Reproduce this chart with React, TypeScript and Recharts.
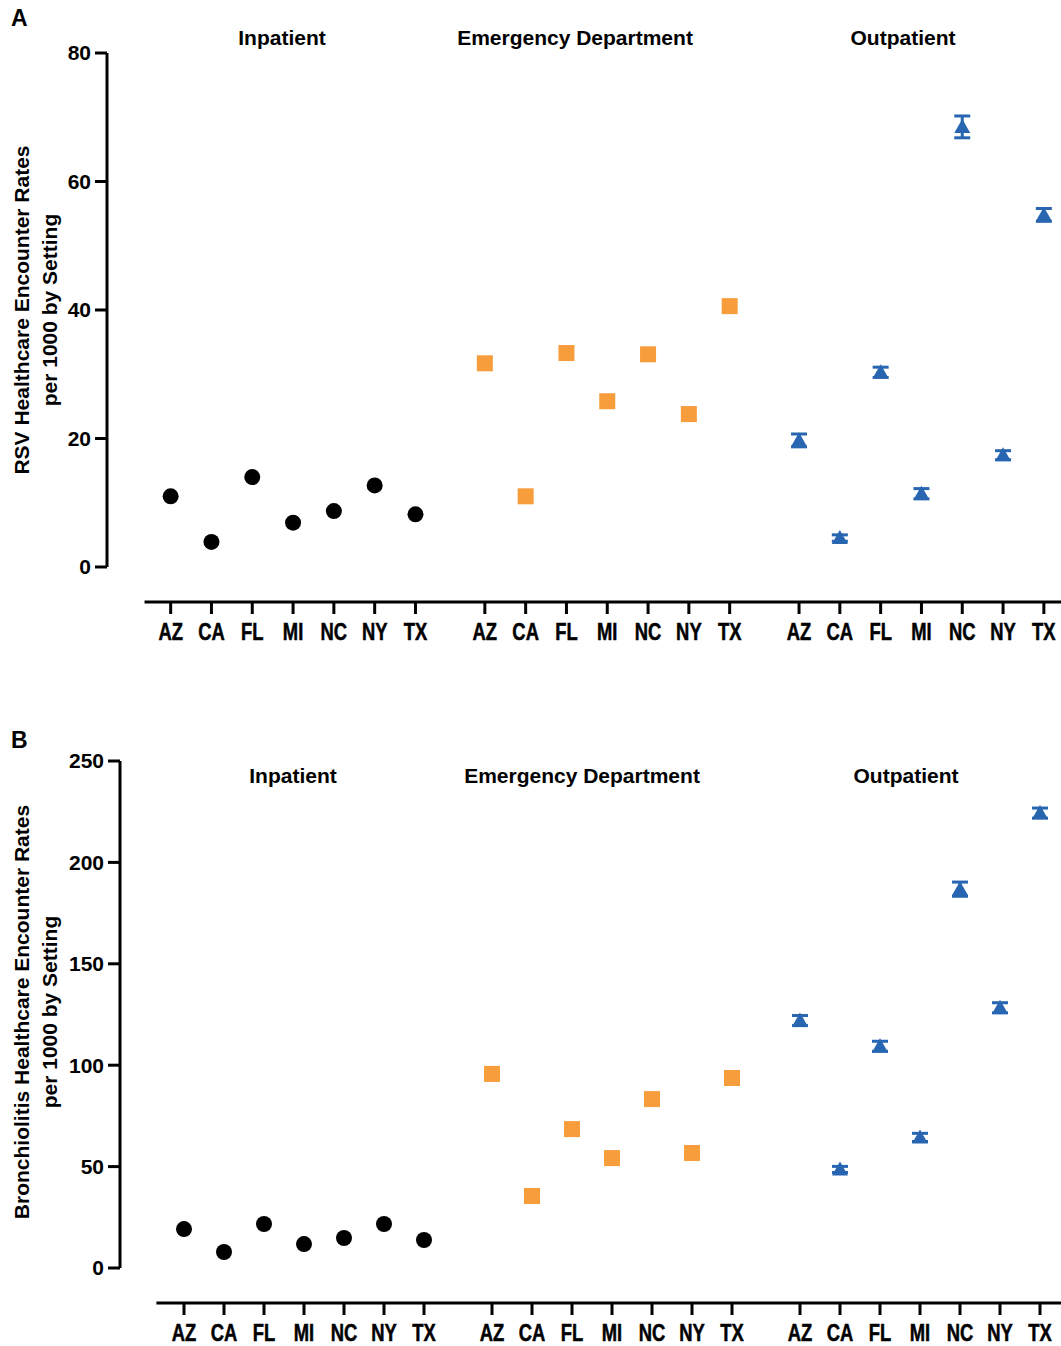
import React from "react";
import {
  ErrorBar,
  ReferenceLine,
  Scatter,
  ScatterChart,
  XAxis,
  YAxis,
} from "recharts";

const STATES = ["AZ", "CA", "FL", "MI", "NC", "NY", "TX"];
const SETTINGS = ["Inpatient", "Emergency Department", "Outpatient"];

// Panel A – RSV encounter rates per 1000
const RSV_INPATIENT = [11.0, 3.9, 14.0, 6.9, 8.7, 12.7, 8.2];
const RSV_ED = [31.7, 11.0, 33.3, 25.8, 33.1, 23.8, 40.6];
const RSV_OUTPATIENT = [19.7, 4.5, 30.3, 11.4, 68.5, 17.4, 54.8];
const RSV_OUTPATIENT_ERR = [1.0, 0.5, 0.8, 0.8, 1.7, 0.7, 1.0];
const RSV_TICKS = [0, 20, 40, 60, 80];

// Panel B – Bronchiolitis encounter rates per 1000
const BRON_INPATIENT = [19.2, 7.9, 21.7, 11.8, 14.8, 21.7, 13.8];
const BRON_ED = [95.7, 35.5, 68.5, 54.2, 83.3, 56.7, 93.7];
const BRON_OUTPATIENT = [122.0, 48.6, 109.3, 64.4, 186.8, 128.3, 224.3];
const BRON_OUTPATIENT_ERR = [2.5, 1.5, 2.5, 2.0, 3.5, 2.5, 2.5];
const BRON_TICKS = [0, 50, 100, 150, 200, 250];

const BLACK = "#000000";
const ORANGE = "#F79D3C";
const BLUE = "#2866B1";

const GROUP_STEP = 7.7;
const X_TICKS = SETTINGS.flatMap((_, g) => STATES.map((__, i) => g * GROUP_STEP + i));
const X_TICK_LABELS = SETTINGS.flatMap(() => STATES);

const TEXT_FONT = "'Liberation Sans', Arial, sans-serif";

function toPoints(group: number, values: number[], errs?: number[]) {
  return values.map((v, i) => ({
    x: group * GROUP_STEP + i,
    y: v,
    err: errs ? errs[i] : 0,
  }));
}

const Dot = (p: any) => <circle cx={p.cx} cy={p.cy} r={8} fill={BLACK} />;
const Square = (p: any) => (
  <rect x={p.cx - 8} y={p.cy - 8} width={16} height={16} fill={ORANGE} />
);
const Triangle = (p: any) => (
  <path
    d={`M${p.cx},${p.cy - 8} L${p.cx + 8},${p.cy + 6} L${p.cx - 8},${p.cy + 6} Z`}
    fill={BLUE}
  />
);

// condensed bold state labels
const StateTick = (p: any) => {
  const idx = X_TICKS.findIndex((t) => Math.abs(t - p.payload.value) < 1e-6);
  return (
    <g transform={`translate(${p.x},${p.y})`}>
      <text
        transform="scale(0.8,1)"
        textAnchor="middle"
        dy="0.71em"
        fill="#000"
        stroke="#000"
        strokeWidth={0.5}
        fontSize={23}
        fontWeight={700}
        fontFamily={TEXT_FONT}
      >
        {idx >= 0 ? X_TICK_LABELS[idx] : ""}
      </text>
    </g>
  );
};

const ValueTick = (p: any) => (
  <text
    x={p.x}
    y={p.y}
    textAnchor="end"
    dy="0.355em"
    fill="#000"
    fontSize={21}
    fontWeight={700}
    fontFamily={TEXT_FONT}
  >
    {p.payload.value}
  </text>
);

interface PanelProps {
  top: number;
  height: number;
  plotTop: number;
  axisWidth: number;
  xAxisHeight: number;
  xMin: number;
  xMax: number;
  xLineStart: number;
  yMin: number;
  yMax: number;
  yTicks: number[];
  inpatient: number[];
  ed: number[];
  outpatient: number[];
  outpatientErr: number[];
  letter: string;
  letterTop: number;
  titleY: number;
  titleX: number[];
  yLabel: string[];
  yLabelCenter: number;
}

function Panel(props: PanelProps) {
  const {
    top, height, plotTop, axisWidth, xAxisHeight, xMin, xMax, xLineStart,
    yMin, yMax, yTicks, letter, letterTop, titleY, titleX, yLabel, yLabelCenter,
  } = props;
  return (
    <div style={{ position: "absolute", left: 0, top, width: 1061, height }}>
      <ScatterChart
        width={1061}
        height={height}
        margin={{ top: plotTop, right: 0, bottom: 0, left: 0 }}
      >
        <XAxis
          type="number"
          dataKey="x"
          domain={[xMin, xMax]}
          ticks={X_TICKS}
          interval={0}
          allowDataOverflow
          axisLine={false}
          tickLine={{ stroke: "#000", strokeWidth: 3 }}
          tickSize={12}
          tickMargin={10}
          tick={<StateTick />}
          height={xAxisHeight}
        />
        <YAxis
          type="number"
          dataKey="y"
          domain={[yMin, yMax]}
          ticks={yTicks}
          interval={0}
          allowDataOverflow
          axisLine={false}
          tickLine={{ stroke: "#000", strokeWidth: 3 }}
          tickSize={12}
          tickMargin={4}
          tick={<ValueTick />}
          width={axisWidth}
        />
        <ReferenceLine
          segment={[{ x: xMin, y: 0 }, { x: xMin, y: yMax }]}
          stroke="#000"
          strokeWidth={3}
          ifOverflow="visible"
        />
        <ReferenceLine
          segment={[{ x: xLineStart, y: yMin }, { x: xMax, y: yMin }]}
          stroke="#000"
          strokeWidth={3}
          ifOverflow="visible"
        />
        <Scatter
          data={toPoints(0, props.inpatient)}
          shape={Dot}
          isAnimationActive={false}
        />
        <Scatter
          data={toPoints(1, props.ed)}
          shape={Square}
          isAnimationActive={false}
        />
        <Scatter
          data={toPoints(2, props.outpatient, props.outpatientErr)}
          shape={Triangle}
          isAnimationActive={false}
        >
          <ErrorBar
            dataKey="err"
            direction="y"
            width={8}
            stroke={BLUE}
            strokeWidth={3}
            isAnimationActive={false}
          />
        </Scatter>
      </ScatterChart>

      <div
        style={{
          position: "absolute", left: 11, top: letterTop, fontFamily: TEXT_FONT,
          fontWeight: 700, fontSize: 23, lineHeight: "23px",
        }}
      >
        {letter}
      </div>
      {SETTINGS.map((s, i) => (
        <div
          key={s}
          style={{
            position: "absolute", left: titleX[i] - 200, width: 400, top: titleY - 10,
            textAlign: "center", fontFamily: TEXT_FONT, fontWeight: 700,
            fontSize: 21, lineHeight: "21px",
          }}
        >
          {s}
        </div>
      ))}
      <div
        style={{
          position: "absolute", left: 36 - 250, top: yLabelCenter - 28, width: 500,
          height: 56, transform: "rotate(-90deg)", textAlign: "center",
          fontFamily: TEXT_FONT, fontWeight: 700, fontSize: 21, lineHeight: "28px",
        }}
      >
        {yLabel[0]}
        <br />
        {yLabel[1]}
      </div>
    </div>
  );
}

export default function App() {
  return (
    <div
      style={{
        position: "absolute", left: 0, top: 0, width: 1061, height: 1346,
        overflow: "hidden", background: "#fff",
      }}
    >
      <Panel
        top={0}
        height={660}
        plotTop={53}
        axisWidth={107}
        xAxisHeight={58}
        xMin={-1.56}
        xMax={21.82}
        xLineStart={-0.64}
        yMin={-5.45}
        yMax={80}
        yTicks={RSV_TICKS}
        inpatient={RSV_INPATIENT}
        ed={RSV_ED}
        outpatient={RSV_OUTPATIENT}
        outpatientErr={RSV_OUTPATIENT_ERR}
        letter="A"
        letterTop={7}
        titleY={37}
        titleX={[282, 575, 903]}
        yLabel={["RSV Healthcare Encounter Rates", "per 1000 by Setting"]}
        yLabelCenter={310}
      />
      <Panel
        top={700}
        height={646}
        plotTop={61}
        axisWidth={120}
        xAxisHeight={43}
        xMin={-1.6}
        xMax={21.925}
        xLineStart={-0.69}
        yMin={-17.26}
        yMax={250}
        yTicks={BRON_TICKS}
        inpatient={BRON_INPATIENT}
        ed={BRON_ED}
        outpatient={BRON_OUTPATIENT}
        outpatientErr={BRON_OUTPATIENT_ERR}
        letter="B"
        letterTop={29}
        titleY={75}
        titleX={[293, 582, 906]}
        yLabel={["Bronchiolitis Healthcare Encounter Rates", "per 1000 by Setting"]}
        yLabelCenter={312}
      />
    </div>
  );
}
